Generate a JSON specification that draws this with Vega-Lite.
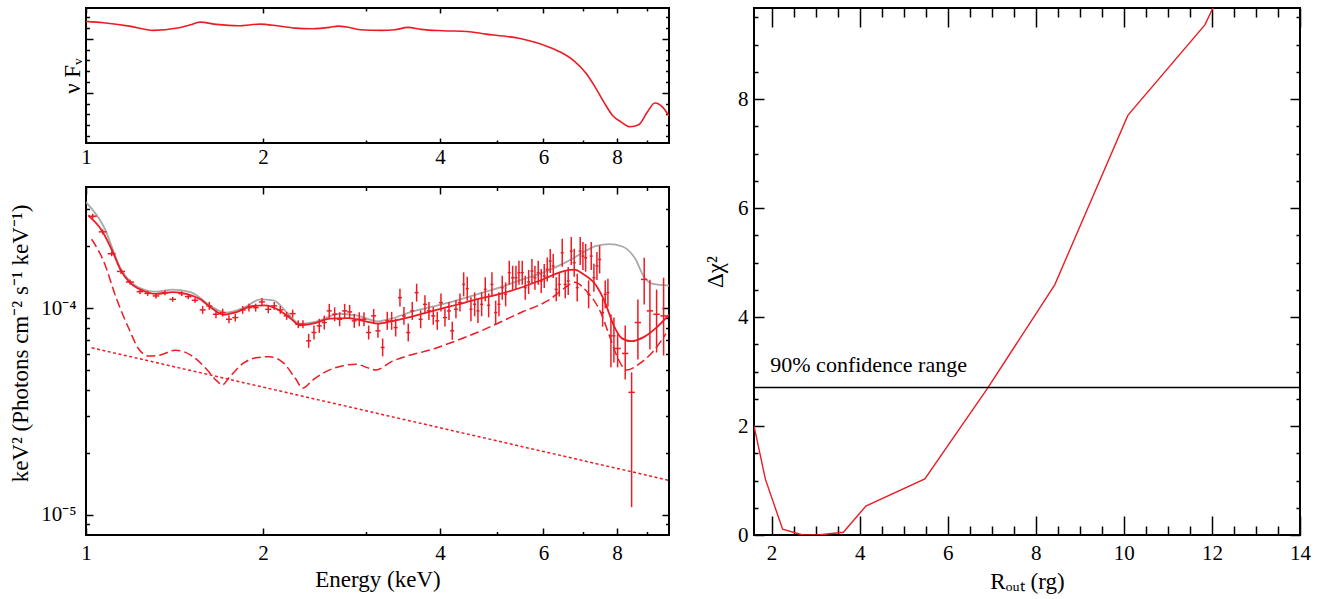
{
  "$schema": "https://vega.github.io/schema/vega-lite/v6.json",
  "padding": {"left": 8, "top": 5, "right": 0, "bottom": 0},
  "spacing": 32,
  "config": {
    "view": {"stroke": "#000000", "strokeWidth": 2},
    "font": "Liberation Serif",
    "axis": {
      "labelFont": "Liberation Serif", "titleFont": "Liberation Serif",
      "labelFontSize": 21, "titleFontSize": 23, "titleFontWeight": "normal",
      "labelColor": "#000000", "titleColor": "#000000", "tickColor": "#000000", "tickWidth": 1.5,
      "domain": false, "grid": false, "labelFlush": false, "labelOverlap": false
    }
  },
  "datasets": {
    "top": [
      {"e":1.0,"v":2.322},{"e":1.0705,"v":2.297},{"e":1.1858,"v":2.235},{"e":1.3024,"v":2.155},{"e":1.4303,"v":2.198},{"e":1.5054,"v":2.260},{"e":1.5629,"v":2.309},{"e":1.6675,"v":2.266},{"e":1.8159,"v":2.241},{"e":1.9773,"v":2.272},{"e":2.1168,"v":2.241},{"e":2.2662,"v":2.198},{"e":2.4261,"v":2.186},{"e":2.5971,"v":2.211},{"e":2.6872,"v":2.235},{"e":2.7804,"v":2.217},{"e":2.9263,"v":2.167},{"e":3.1865,"v":2.155},{"e":3.3537,"v":2.167},{"e":3.5296,"v":2.211},{"e":3.7148,"v":2.174},{"e":4.0453,"v":2.149},{"e":4.4428,"v":2.136},{"e":4.7967,"v":2.087},{"e":5.1356,"v":2.050},{"e":5.4979,"v":2.001},{"e":5.7863,"v":1.939},{"e":6.0899,"v":1.859},{"e":6.4094,"v":1.754},{"e":6.7458,"v":1.599},{"e":7.0998,"v":1.352},{"e":7.3460,"v":1.106},{"e":7.6007,"v":0.828},{"e":7.8642,"v":0.581},{"e":8.1369,"v":0.457},{"e":8.4191,"v":0.370},{"e":8.7110,"v":0.407},{"e":9.0130,"v":0.643},{"e":9.28,"v":0.81},{"e":9.5670,"v":0.735},{"e":9.81,"v":0.570}
    ],
    "solid": [
      {"e":1.0086,"f":2.807e-4},{"e":1.0652,"f":2.360e-4},{"e":1.1117,"f":1.857e-4},{"e":1.1464,"f":1.517e-4},{"e":1.1862,"f":1.333e-4},{"e":1.2486,"f":1.216e-4},{"e":1.3142,"f":1.172e-4},{"e":1.4071,"f":1.194e-4},{"e":1.4811,"f":1.172e-4},{"e":1.5590,"f":1.109e-4},{"e":1.6409,"f":9.93e-5},{"e":1.7125,"f":9.29e-5},{"e":1.8026,"f":9.57e-5},{"e":1.9135,"f":1.022e-4},{"e":2.0140,"f":1.030e-4},{"e":2.1200,"f":9.85e-5},{"e":2.2315,"f":8.89e-5},{"e":2.3090,"f":8.26e-5},{"e":2.4304,"f":8.41e-5},{"e":2.6022,"f":8.89e-5},{"e":2.7862,"f":8.95e-5},{"e":2.9327,"f":8.73e-5},{"e":3.1400,"f":8.41e-5},{"e":3.3051,"f":8.63e-5},{"e":3.5997,"f":9.12e-5},{"e":3.9206,"f":9.75e-5},{"e":4.2700,"f":1.038e-4},{"e":4.6507,"f":1.109e-4},{"e":5.0651,"f":1.172e-4},{"e":5.5166,"f":1.261e-4},{"e":6.0085,"f":1.383e-4},{"e":6.5440,"f":1.517e-4},{"e":6.7714,"f":1.533e-4},{"e":7.0067,"f":1.462e-4},{"e":7.3758,"f":1.285e-4},{"e":7.6320,"f":1.069e-4},{"e":7.8972,"f":8.26e-5},{"e":8.1716,"f":7.12e-5},{"e":8.4556,"f":6.92e-5},{"e":8.9002,"f":7.26e-5},{"e":9.3683,"f":8.11e-5},{"e":9.81,"f":9.29e-5}
    ],
    "gray": [
      {"e":1.0,"f":3.252e-4},{"e":1.0707,"f":2.494e-4},{"e":1.1464,"f":1.545e-4},{"e":1.2274,"f":1.261e-4},{"e":1.3142,"f":1.202e-4},{"e":1.4071,"f":1.229e-4},{"e":1.5066,"f":1.194e-4},{"e":1.6409,"f":1.011e-4},{"e":1.7272,"f":9.50e-5},{"e":1.8494,"f":1.0e-4},{"e":1.9801,"f":1.101e-4},{"e":2.0841,"f":1.089e-4},{"e":2.1938,"f":9.57e-5},{"e":2.3090,"f":8.41e-5},{"e":2.4722,"f":8.63e-5},{"e":2.6926,"f":9.39e-5},{"e":2.8830,"f":9.22e-5},{"e":3.1400,"f":8.63e-5},{"e":3.3051,"f":8.89e-5},{"e":3.5997,"f":9.64e-5},{"e":3.9206,"f":1.022e-4},{"e":4.2700,"f":1.089e-4},{"e":4.6507,"f":1.172e-4},{"e":5.0651,"f":1.261e-4},{"e":5.5166,"f":1.373e-4},{"e":6.0085,"f":1.489e-4},{"e":6.5440,"f":1.663e-4},{"e":7.0067,"f":1.857e-4},{"e":7.3758,"f":1.999e-4},{"e":7.7634,"f":2.037e-4},{"e":8.1716,"f":1.985e-4},{"e":8.6008,"f":1.726e-4},{"e":8.9002,"f":1.409e-4},{"e":9.2096,"f":1.309e-4},{"e":9.81,"f":1.285e-4}
    ],
    "dashed": [
      {"e":1.0224,"f":2.152e-4},{"e":1.0707,"f":1.694e-4},{"e":1.1270,"f":1.109e-4},{"e":1.1862,"f":7.81e-5},{"e":1.2274,"f":6.38e-5},{"e":1.2810,"f":5.86e-5},{"e":1.3369,"f":5.93e-5},{"e":1.4192,"f":6.26e-5},{"e":1.5066,"f":5.93e-5},{"e":1.5994,"f":5.11e-5},{"e":1.6692,"f":4.45e-5},{"e":1.7037,"f":4.25e-5},{"e":1.7569,"f":4.66e-5},{"e":1.8494,"f":5.40e-5},{"e":1.9465,"f":5.75e-5},{"e":2.0489,"f":5.82e-5},{"e":2.1566,"f":5.50e-5},{"e":2.2700,"f":4.58e-5},{"e":2.3368,"f":4.10e-5},{"e":2.4304,"f":4.49e-5},{"e":2.5581,"f":4.93e-5},{"e":2.7390,"f":5.27e-5},{"e":2.8830,"f":5.35e-5},{"e":3.0346,"f":5.11e-5},{"e":3.1133,"f":5.02e-5},{"e":3.3051,"f":5.50e-5},{"e":3.9206,"f":6.38e-5},{"e":4.6507,"f":7.67e-5},{"e":5.5166,"f":9.57e-5},{"e":6.1120,"f":1.089e-4},{"e":6.5440,"f":1.261e-4},{"e":6.7714,"f":1.333e-4},{"e":7.1274,"f":1.194e-4},{"e":7.5022,"f":9.57e-5},{"e":7.7634,"f":7.39e-5},{"e":8.0328,"f":5.71e-5},{"e":8.3119,"f":5.02e-5},{"e":8.7495,"f":5.40e-5},{"e":9.2096,"f":6.15e-5},{"e":9.6939,"f":7.53e-5}
    ],
    "dotted": [
      {"e":1.0224,"f":6.43e-5},{"e":9.81,"f":1.47e-5}
    ],
    "pts": [
      {"e":1.0266,"de":0.0161,"f":2.782e-4,"lo":2.706e-4,"hi":2.860e-4},
      {"e":1.0676,"de":0.0167,"f":2.337e-4,"lo":2.273e-4,"hi":2.402e-4},
      {"e":1.1059,"de":0.0173,"f":1.831e-4,"lo":1.781e-4,"hi":1.882e-4},
      {"e":1.1469,"de":0.0180,"f":1.504e-4,"lo":1.463e-4,"hi":1.546e-4},
      {"e":1.1880,"de":0.0186,"f":1.337e-4,"lo":1.301e-4,"hi":1.374e-4},
      {"e":1.2355,"de":0.0160,"f":1.201e-4,"lo":1.168e-4,"hi":1.235e-4},
      {"e":1.2733,"de":0.0165,"f":1.1785e-4,"lo":1.146e-4,"hi":1.211e-4},
      {"e":1.3154,"de":0.0170,"f":1.145e-4,"lo":1.114e-4,"hi":1.177e-4},
      {"e":1.3626,"de":0.0176,"f":1.1877e-4,"lo":1.155e-4,"hi":1.221e-4},
      {"e":1.4043,"de":0.0181,"f":1.1026e-4,"lo":1.073e-4,"hi":1.133e-4},
      {"e":1.4547,"de":0.0188,"f":1.1746e-4,"lo":1.143e-4,"hi":1.207e-4},
      {"e":1.4927,"de":0.0193,"f":1.1361e-4,"lo":1.105e-4,"hi":1.168e-4},
      {"e":1.5324,"de":0.0198,"f":1.0904e-4,"lo":1.061e-4,"hi":1.121e-4},
      {"e":1.5793,"de":0.0186,"f":9.802e-5,"lo":9.38e-5,"hi":1.024e-4},
      {"e":1.6207,"de":0.0190,"f":1.0247e-4,"lo":9.81e-5,"hi":1.071e-4},
      {"e":1.6638,"de":0.0195,"f":9.335e-5,"lo":8.93e-5,"hi":9.76e-5},
      {"e":1.7080,"de":0.0201,"f":9.513e-5,"lo":9.10e-5,"hi":9.94e-5},
      {"e":1.7507,"de":0.0206,"f":8.831e-5,"lo":8.45e-5,"hi":9.23e-5},
      {"e":1.7944,"de":0.0211,"f":9.000e-5,"lo":8.61e-5,"hi":9.41e-5},
      {"e":1.8472,"de":0.0217,"f":9.802e-5,"lo":9.38e-5,"hi":1.024e-4},
      {"e":1.8933,"de":0.0222,"f":1.0056e-4,"lo":9.62e-5,"hi":1.051e-4},
      {"e":1.9437,"de":0.0228,"f":1.0056e-4,"lo":9.62e-5,"hi":1.051e-4},
      {"e":1.9922,"de":0.0234,"f":1.0712e-4,"lo":1.025e-4,"hi":1.119e-4},
      {"e":2.0419,"de":0.0240,"f":9.868e-5,"lo":9.44e-5,"hi":1.031e-4},
      {"e":2.0905,"de":0.0246,"f":1.0247e-4,"lo":9.81e-5,"hi":1.071e-4},
      {"e":2.1402,"de":0.0251,"f":9.802e-5,"lo":9.38e-5,"hi":1.024e-4},
      {"e":2.1945,"de":0.0258,"f":9.171e-5,"lo":8.78e-5,"hi":9.58e-5},
      {"e":2.2466,"de":0.0264,"f":9.408e-5,"lo":9.00e-5,"hi":9.83e-5},
      {"e":2.2965,"de":0.0270,"f":8.355e-5,"lo":8.00e-5,"hi":8.73e-5},
      {"e":2.3391,"de":0.0275,"f":8.355e-5,"lo":8.00e-5,"hi":8.73e-5},
      {"e":2.3919,"de":0.0234,"f":6.949e-5,"lo":6.43e-5,"hi":7.51e-5},
      {"e":2.4421,"de":0.0239,"f":7.620e-5,"lo":7.05e-5,"hi":8.24e-5},
      {"e":2.4933,"de":0.0244,"f":8.208e-5,"lo":7.59e-5,"hi":8.87e-5},
      {"e":2.5426,"de":0.0249,"f":8.514e-5,"lo":7.88e-5,"hi":9.20e-5},
      {"e":2.5929,"de":0.0254,"f":9.694e-5,"lo":8.97e-5,"hi":1.048e-4},
      {"e":2.6483,"de":0.0259,"f":9.335e-5,"lo":8.63e-5,"hi":1.009e-4},
      {"e":2.7007,"de":0.0264,"f":8.831e-5,"lo":8.17e-5,"hi":9.55e-5},
      {"e":2.7541,"de":0.0270,"f":9.694e-5,"lo":8.97e-5,"hi":1.048e-4},
      {"e":2.8086,"de":0.0275,"f":9.587e-5,"lo":8.87e-5,"hi":1.036e-4},
      {"e":2.8596,"de":0.0280,"f":8.676e-5,"lo":8.03e-5,"hi":9.38e-5},
      {"e":2.9162,"de":0.0285,"f":8.831e-5,"lo":8.17e-5,"hi":9.55e-5},
      {"e":2.9703,"de":0.0291,"f":8.831e-5,"lo":8.17e-5,"hi":9.55e-5},
      {"e":3.0255,"de":0.0296,"f":7.620e-5,"lo":7.05e-5,"hi":8.24e-5},
      {"e":3.0853,"de":0.0302,"f":9.171e-5,"lo":8.48e-5,"hi":9.91e-5},
      {"e":3.1377,"de":0.0307,"f":7.765e-5,"lo":7.18e-5,"hi":8.39e-5},
      {"e":3.1959,"de":0.0250,"f":6.451e-5,"lo":5.84e-5,"hi":7.13e-5},
      {"e":3.2540,"de":0.0255,"f":8.676e-5,"lo":7.85e-5,"hi":9.59e-5},
      {"e":3.3106,"de":0.0259,"f":8.676e-5,"lo":7.85e-5,"hi":9.59e-5},
      {"e":3.3629,"de":0.0263,"f":8.054e-5,"lo":7.29e-5,"hi":8.90e-5},
      {"e":3.4200,"de":0.0268,"f":1.1236e-4,"lo":1.017e-4,"hi":1.242e-4},
      {"e":3.4740,"de":0.0272,"f":9.171e-5,"lo":8.30e-5,"hi":1.013e-4},
      {"e":3.5330,"de":0.0277,"f":7.620e-5,"lo":6.90e-5,"hi":8.42e-5},
      {"e":3.5888,"de":0.0281,"f":9.694e-5,"lo":8.77e-5,"hi":1.071e-4},
      {"e":3.6512,"de":0.0286,"f":1.1877e-4,"lo":1.075e-4,"hi":1.312e-4},
      {"e":3.7088,"de":0.0290,"f":8.831e-5,"lo":7.99e-5,"hi":9.76e-5},
      {"e":3.7718,"de":0.0295,"f":1.0431e-4,"lo":9.44e-5,"hi":1.153e-4},
      {"e":3.8314,"de":0.0300,"f":9.694e-5,"lo":8.77e-5,"hi":1.071e-4},
      {"e":3.8964,"de":0.0305,"f":9.171e-5,"lo":8.30e-5,"hi":1.013e-4},
      {"e":3.9580,"de":0.0310,"f":8.676e-5,"lo":7.85e-5,"hi":9.59e-5},
      {"e":4.0157,"de":0.0314,"f":1.0629e-4,"lo":9.62e-5,"hi":1.175e-4},
      {"e":4.0791,"de":0.0319,"f":9.000e-5,"lo":8.15e-5,"hi":9.95e-5},
      {"e":4.1435,"de":0.0324,"f":9.694e-5,"lo":8.77e-5,"hi":1.071e-4},
      {"e":4.1974,"de":0.0329,"f":7.765e-5,"lo":7.03e-5,"hi":8.58e-5},
      {"e":4.2587,"de":0.0333,"f":9.868e-5,"lo":8.93e-5,"hi":1.090e-4},
      {"e":4.3259,"de":0.0339,"f":1.0629e-4,"lo":9.62e-5,"hi":1.175e-4},
      {"e":4.3890,"de":0.0258,"f":1.3023e-4,"lo":1.139e-4,"hi":1.489e-4},
      {"e":4.4514,"de":0.0261,"f":1.2416e-4,"lo":1.086e-4,"hi":1.419e-4},
      {"e":4.5163,"de":0.0265,"f":9.868e-5,"lo":8.63e-5,"hi":1.128e-4},
      {"e":4.5823,"de":0.0269,"f":1.0431e-4,"lo":9.13e-5,"hi":1.192e-4},
      {"e":4.6418,"de":0.0273,"f":9.694e-5,"lo":8.48e-5,"hi":1.108e-4},
      {"e":4.7096,"de":0.0277,"f":1.0431e-4,"lo":9.13e-5,"hi":1.192e-4},
      {"e":4.7765,"de":0.0281,"f":1.2320e-4,"lo":1.078e-4,"hi":1.408e-4},
      {"e":4.8405,"de":0.0284,"f":1.0316e-4,"lo":9.03e-5,"hi":1.179e-4},
      {"e":4.9035,"de":0.0288,"f":1.3023e-4,"lo":1.139e-4,"hi":1.489e-4},
      {"e":4.9751,"de":0.0292,"f":9.513e-5,"lo":8.32e-5,"hi":1.087e-4},
      {"e":5.0398,"de":0.0296,"f":1.0431e-4,"lo":9.13e-5,"hi":1.192e-4},
      {"e":5.1053,"de":0.0300,"f":1.2554e-4,"lo":1.098e-4,"hi":1.435e-4},
      {"e":5.1737,"de":0.0304,"f":1.1655e-4,"lo":1.020e-4,"hi":1.332e-4},
      {"e":5.2472,"de":0.0308,"f":1.4828e-4,"lo":1.297e-4,"hi":1.695e-4},
      {"e":5.3175,"de":0.0312,"f":1.4028e-4,"lo":1.227e-4,"hi":1.603e-4},
      {"e":5.3867,"de":0.0316,"f":1.4028e-4,"lo":1.227e-4,"hi":1.603e-4},
      {"e":5.4503,"de":0.0320,"f":1.4828e-4,"lo":1.297e-4,"hi":1.695e-4},
      {"e":5.5212,"de":0.0324,"f":1.4828e-4,"lo":1.297e-4,"hi":1.695e-4},
      {"e":5.5864,"de":0.0328,"f":1.2554e-4,"lo":1.098e-4,"hi":1.435e-4},
      {"e":5.6613,"de":0.0333,"f":1.3374e-4,"lo":1.170e-4,"hi":1.529e-4},
      {"e":5.7349,"de":0.0337,"f":1.5111e-4,"lo":1.322e-4,"hi":1.727e-4},
      {"e":5.8027,"de":0.0341,"f":1.4028e-4,"lo":1.227e-4,"hi":1.603e-4},
      {"e":5.8782,"de":0.0345,"f":1.4828e-4,"lo":1.297e-4,"hi":1.695e-4},
      {"e":5.9476,"de":0.0349,"f":1.3523e-4,"lo":1.183e-4,"hi":1.546e-4},
      {"e":6.0179,"de":0.0353,"f":1.4295e-4,"lo":1.251e-4,"hi":1.634e-4},
      {"e":6.0890,"de":0.0358,"f":1.5381e-4,"lo":1.346e-4,"hi":1.758e-4},
      {"e":6.1610,"de":0.0362,"f":1.6884e-4,"lo":1.477e-4,"hi":1.930e-4},
      {"e":6.2338,"de":0.0366,"f":1.5973e-4,"lo":1.397e-4,"hi":1.826e-4},
      {"e":6.3074,"de":0.0370,"f":1.2320e-4,"lo":1.078e-4,"hi":1.408e-4},
      {"e":6.3820,"de":0.0375,"f":1.3023e-4,"lo":1.139e-4,"hi":1.489e-4},
      {"e":6.4574,"de":0.0379,"f":1.8513e-4,"lo":1.585e-4,"hi":2.162e-4},
      {"e":6.5337,"de":0.0384,"f":1.3023e-4,"lo":1.115e-4,"hi":1.521e-4},
      {"e":6.6109,"de":0.0388,"f":1.3523e-4,"lo":1.158e-4,"hi":1.579e-4},
      {"e":6.6890,"de":0.0393,"f":1.8866e-4,"lo":1.615e-4,"hi":2.204e-4},
      {"e":6.7680,"de":0.0398,"f":1.6568e-4,"lo":1.418e-4,"hi":1.935e-4},
      {"e":6.8480,"de":0.0402,"f":1.2554e-4,"lo":1.075e-4,"hi":1.466e-4},
      {"e":6.9289,"de":0.0407,"f":1.8866e-4,"lo":1.615e-4,"hi":2.204e-4},
      {"e":7.0026,"de":0.0411,"f":1.7848e-4,"lo":1.528e-4,"hi":2.085e-4},
      {"e":7.0770,"de":0.0416,"f":1.7514e-4,"lo":1.499e-4,"hi":2.046e-4},
      {"e":7.1606,"de":0.0421,"f":1.1655e-4,"lo":9.98e-5,"hi":1.361e-4},
      {"e":7.2339,"de":0.0425,"f":1.7848e-4,"lo":1.528e-4,"hi":2.085e-4},
      {"e":7.3108,"de":0.0429,"f":1.4028e-4,"lo":1.201e-4,"hi":1.638e-4},
      {"e":7.3972,"de":0.0435,"f":1.5973e-4,"lo":1.367e-4,"hi":1.866e-4},
      {"e":7.4758,"de":0.0439,"f":1.7187e-4,"lo":1.471e-4,"hi":2.007e-4},
      {"e":7.5641,"de":0.0444,"f":9.513e-5,"lo":8.14e-5,"hi":1.111e-4},
      {"e":7.6415,"de":0.0449,"f":1.1655e-4,"lo":9.98e-5,"hi":1.361e-4},
      {"e":7.7227,"de":0.0454,"f":1.1877e-4,"lo":1.017e-4,"hi":1.387e-4},
      {"e":7.8140,"de":0.046,"f":7.346e-5,"lo":5.17e-5,"hi":9.34e-5},
      {"e":7.9063,"de":0.047,"f":7.346e-5,"lo":5.46e-5,"hi":9.00e-5},
      {"e":8.0217,"de":0.100,"f":6.380e-5,"lo":5.17e-5,"hi":7.48e-5},
      {"e":8.2640,"de":0.103,"f":6.036e-5,"lo":4.52e-5,"hi":8.24e-5},
      {"e":8.4737,"de":0.106,"f":3.915e-5,"lo":1.09e-5,"hi":4.89e-5},
      {"e":8.6853,"de":0.109,"f":8.514e-5,"lo":5.65e-5,"hi":1.099e-4},
      {"e":8.9022,"de":0.111,"f":1.3766e-4,"lo":1.040e-4,"hi":1.751e-4},
      {"e":9.1031,"de":0.114,"f":9.694e-5,"lo":6.31e-5,"hi":1.372e-4},
      {"e":9.3451,"de":0.117,"f":9.335e-5,"lo":6.10e-5,"hi":1.228e-4},
      {"e":9.6048,"de":0.120,"f":9.171e-5,"lo":5.90e-5,"hi":1.403e-4}
    ],
    "chi": [
      {"r":1.6,"d":2.0},{"r":1.86,"d":1.02},{"r":2.25,"d":0.105},{"r":2.71,"d":0.0},{"r":3.1,"d":0.005},{"r":3.63,"d":0.05},{"r":4.14,"d":0.53},{"r":5.48,"d":1.03},{"r":6.91,"d":2.70},{"r":8.43,"d":4.59},{"r":10.09,"d":7.70},{"r":11.84,"d":9.36},{"r":12.1,"d":9.8}
    ],
    "conf": [{"d": 2.706}],
    "lab": [{"r": 1.97, "d": 2.985, "t": "90% confidence range"}]
  },
  "hconcat": [
    {
      "bounds": "flush",
      "spacing": 44,
      "vconcat": [
        {
          "width": 583, "height": 135,
          "data": {"name": "top"},
          "layer": [
            {
              "mark": {"type": "line", "color": "#ec1c24", "strokeWidth": 1.6, "interpolate": "monotone", "clip": true},
              "encoding": {
                "x": {"field": "e", "type": "quantitative", "scale": {"type": "log", "domain": [1, 9.81], "nice": false},
                  "axis": {"orient": "bottom", "values": [1,2,3,4,5,6,7,8,9],
                    "tickSize": {"condition": {"test": "indexof([1,2,4,6,8], datum.value) >= 0", "value": -5}, "value": -3},
                    "labelExpr": "indexof([1,2,4,6,8], datum.value) >= 0 ? '' + datum.value : ''",
                    "labelPadding": 8, "title": null}},
                "y": {"field": "v", "type": "quantitative", "scale": {"domain": [0.07, 2.57], "nice": false, "zero": false},
                  "axis": {"orient": "left", "values": [0.2,0.4,0.6,0.8,1,1.2,1.4,1.6,1.8,2,2.2,2.4],
                    "tickSize": {"condition": {"test": "datum.value == 1 || datum.value == 2", "value": -7}, "value": -3.5},
                    "labels": false, "title": "ν Fᵥ", "titlePadding": 1}}
              }
            },
            {
              "mark": {"type": "line", "strokeOpacity": 0, "clip": true},
              "encoding": {
                "x": {"field": "e", "type": "quantitative", "scale": {"type": "log", "domain": [1, 9.81], "nice": false},
                  "axis": {"orient": "top", "values": [1,2,3,4,5,6,7,8,9],
                    "tickSize": {"condition": {"test": "indexof([1,2,4,6,8], datum.value) >= 0", "value": -5}, "value": -3},
                    "labels": false, "title": null}},
                "y": {"field": "v", "type": "quantitative", "scale": {"domain": [0.07, 2.57], "nice": false, "zero": false},
                  "axis": {"orient": "right", "values": [0.2,0.4,0.6,0.8,1,1.2,1.4,1.6,1.8,2,2.2,2.4],
                    "tickSize": {"condition": {"test": "datum.value == 1 || datum.value == 2", "value": -7}, "value": -3.5},
                    "labels": false, "title": null}}
              }
            }
          ],
          "resolve": {"axis": {"x": "independent", "y": "independent"}}
        },
        {
          "width": 583, "height": 348,
          "layer": [
            {
              "data": {"name": "gray"},
              "mark": {"type": "line", "color": "#a9a9a9", "strokeWidth": 1.8, "interpolate": "monotone", "clip": true},
              "encoding": {
                "x": {"field": "e", "type": "quantitative", "scale": {"type": "log", "domain": [1, 9.81], "nice": false},
                  "axis": {"orient": "bottom", "values": [1,2,3,4,5,6,7,8,9],
                    "tickSize": {"condition": {"test": "indexof([1,2,4,6,8], datum.value) >= 0", "value": -7}, "value": -3.5},
                    "labelExpr": "indexof([1,2,4,6,8], datum.value) >= 0 ? '' + datum.value : ''",
                    "labelPadding": 14, "title": "Energy (keV)", "titlePadding": 2}},
                "y": {"field": "f", "type": "quantitative", "scale": {"type": "log", "domain": [8.0e-6, 3.85e-4], "nice": false},
                  "axis": {"orient": "left", "values": [9e-6,1e-5,2e-5,3e-5,4e-5,5e-5,6e-5,7e-5,8e-5,9e-5,1e-4,2e-4,3e-4],
                    "tickSize": {"condition": {"test": "datum.value == 1e-5 || datum.value == 1e-4", "value": -7}, "value": -3.5},
                    "labelExpr": "datum.value == 1e-4 ? '10⁻⁴' : (datum.value == 1e-5 ? '10⁻⁵' : '')",
                    "labelPadding": 17, "title": "keV² (Photons cm⁻² s⁻¹ keV⁻¹)", "titlePadding": 8, "titleY": 156}}
              }
            },
            {
              "data": {"name": "dotted"},
              "mark": {"type": "line", "color": "#ec1c24", "strokeWidth": 1.5, "strokeDash": [3, 2.5], "clip": true},
              "encoding": {
                "x": {"field": "e", "type": "quantitative", "scale": {"type": "log", "domain": [1, 9.81], "nice": false},
                  "axis": {"orient": "top", "values": [1,2,3,4,5,6,7,8,9],
                    "tickSize": {"condition": {"test": "indexof([1,2,4,6,8], datum.value) >= 0", "value": -7}, "value": -3.5},
                    "labels": false, "title": null}},
                "y": {"field": "f", "type": "quantitative", "scale": {"type": "log", "domain": [8.0e-6, 3.85e-4], "nice": false},
                  "axis": {"orient": "right", "values": [9e-6,1e-5,2e-5,3e-5,4e-5,5e-5,6e-5,7e-5,8e-5,9e-5,1e-4,2e-4,3e-4],
                    "tickSize": {"condition": {"test": "datum.value == 1e-5 || datum.value == 1e-4", "value": -7}, "value": -3.5},
                    "labels": false, "title": null}}
              }
            },
            {
              "data": {"name": "dashed"},
              "mark": {"type": "line", "color": "#ec1c24", "strokeWidth": 1.5, "strokeDash": [9, 4], "interpolate": "monotone", "clip": true},
              "encoding": {
                "x": {"field": "e", "type": "quantitative", "scale": {"type": "log", "domain": [1, 9.81], "nice": false}, "axis": null},
                "y": {"field": "f", "type": "quantitative", "scale": {"type": "log", "domain": [8.0e-6, 3.85e-4], "nice": false}, "axis": null}
              }
            },
            {
              "data": {"name": "solid"},
              "mark": {"type": "line", "color": "#ec1c24", "strokeWidth": 1.8, "interpolate": "monotone", "clip": true},
              "encoding": {
                "x": {"field": "e", "type": "quantitative", "scale": {"type": "log", "domain": [1, 9.81], "nice": false}, "axis": null},
                "y": {"field": "f", "type": "quantitative", "scale": {"type": "log", "domain": [8.0e-6, 3.85e-4], "nice": false}, "axis": null}
              }
            },
            {
              "data": {"name": "pts"},
              "mark": {"type": "errorbar", "color": "#ec1c24", "thickness": 1.5},
              "encoding": {
                "x": {"field": "e", "type": "quantitative", "scale": {"type": "log", "domain": [1, 9.81], "nice": false}, "axis": null},
                "xError": {"field": "de"},
                "y": {"field": "f", "type": "quantitative", "scale": {"type": "log", "domain": [8.0e-6, 3.85e-4], "nice": false}, "axis": null}
              }
            },
            {
              "data": {"name": "pts"},
              "mark": {"type": "rule", "color": "#ec1c24", "strokeWidth": 1.5},
              "encoding": {
                "x": {"field": "e", "type": "quantitative", "scale": {"type": "log", "domain": [1, 9.81], "nice": false}, "axis": null},
                "y": {"field": "lo", "type": "quantitative", "scale": {"type": "log", "domain": [8.0e-6, 3.85e-4], "nice": false}, "axis": null},
                "y2": {"field": "hi"}
              }
            }
          ],
          "resolve": {"axis": {"x": "independent", "y": "independent"}}
        }
      ]
    },
    {
      "width": 546, "height": 527,
      "layer": [
        {
          "data": {"name": "chi"},
          "mark": {"type": "line", "color": "#ec1c24", "strokeWidth": 1.4, "clip": true},
          "encoding": {
            "x": {"field": "r", "type": "quantitative", "scale": {"domain": [1.6, 14], "nice": false, "zero": false},
              "axis": {"orient": "bottom", "values": [2,2.5,3,3.5,4,4.5,5,5.5,6,6.5,7,7.5,8,8.5,9,9.5,10,10.5,11,11.5,12,12.5,13,13.5,14],
                "tickSize": {"condition": {"test": "datum.value % 2 === 0", "value": -19}, "value": -9},
                "labelExpr": "datum.value % 2 === 0 ? '' + datum.value : ''",
                "labelPadding": 26, "title": "Rₒᵤₜ (rg)", "titlePadding": -3}},
            "y": {"field": "d", "type": "quantitative", "scale": {"domain": [0, 9.67], "nice": false},
              "axis": {"orient": "left", "values": [0,0.5,1,1.5,2,2.5,3,3.5,4,4.5,5,5.5,6,6.5,7,7.5,8,8.5,9,9.5],
                "tickSize": {"condition": {"test": "datum.value % 2 === 0", "value": -10}, "value": -4},
                "labelExpr": "datum.value % 2 === 0 ? '' + datum.value : ''",
                "labelPadding": 16, "title": "Δχ²", "titlePadding": 10}}
          }
        },
        {
          "data": {"name": "conf"},
          "mark": {"type": "rule", "color": "#000000", "strokeWidth": 1.5},
          "encoding": {
            "y": {"field": "d", "type": "quantitative", "scale": {"domain": [0, 9.67], "nice": false}, "axis": null}
          }
        },
        {
          "data": {"name": "lab"},
          "mark": {"type": "text", "align": "left", "baseline": "alphabetic", "font": "Liberation Serif", "fontSize": 22, "color": "#000000"},
          "encoding": {
            "x": {"field": "r", "type": "quantitative", "scale": {"domain": [1.6, 14], "nice": false, "zero": false}, "axis": null},
            "y": {"field": "d", "type": "quantitative", "scale": {"domain": [0, 9.67], "nice": false}, "axis": null},
            "text": {"field": "t"}
          }
        },
        {
          "data": {"name": "chi"},
          "mark": {"type": "line", "strokeOpacity": 0, "clip": true},
          "encoding": {
            "x": {"field": "r", "type": "quantitative", "scale": {"domain": [1.6, 14], "nice": false, "zero": false},
              "axis": {"orient": "top", "values": [2,2.5,3,3.5,4,4.5,5,5.5,6,6.5,7,7.5,8,8.5,9,9.5,10,10.5,11,11.5,12,12.5,13,13.5,14],
                "tickSize": {"condition": {"test": "datum.value % 2 === 0", "value": -19}, "value": -9},
                "labels": false, "title": null}},
            "y": {"field": "d", "type": "quantitative", "scale": {"domain": [0, 9.67], "nice": false},
              "axis": {"orient": "right", "values": [0,0.5,1,1.5,2,2.5,3,3.5,4,4.5,5,5.5,6,6.5,7,7.5,8,8.5,9,9.5],
                "tickSize": {"condition": {"test": "datum.value % 2 === 0", "value": -10}, "value": -4},
                "labels": false, "title": null}}
          }
        }
      ],
      "resolve": {"axis": {"x": "independent", "y": "independent"}}
    }
  ]
}
